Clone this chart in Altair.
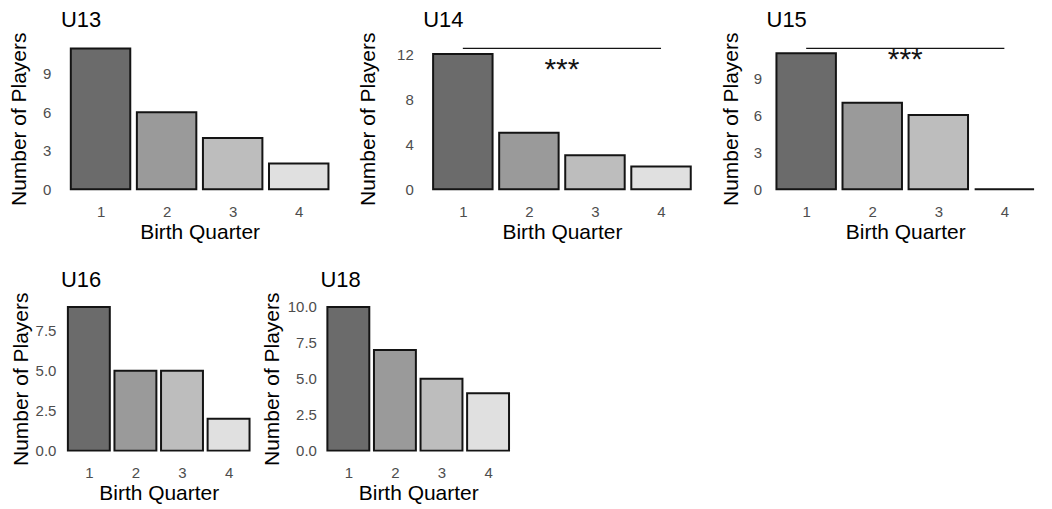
import altair as alt
import pandas as pd

quarters = [1, 2, 3, 4]
greys = ["#6b6b6b", "#9a9a9a", "#bdbdbd", "#e0e0e0"]

u13 = [11, 6, 4, 2]
u14 = [12, 5, 3, 2]
u15 = [11, 7, 6, 0]
u16 = [9, 5, 5, 2]
u18 = [10, 7, 5, 4]

y_ticks_u13 = [0, 3, 6, 9]
y_ticks_u14 = [0, 4, 8, 12]
y_ticks_u15 = [0, 3, 6, 9]
y_ticks_u16 = [0, 2.5, 5, 7.5]
y_ticks_u18 = [0, 2.5, 5, 7.5, 10]

sig_u14 = {"q_from": 1, "q_to": 4, "line_y": 12.5, "text_y": 10.6, "label": "***"}
sig_u15 = {"q_from": 1, "q_to": 4, "line_y": 11.4, "text_y": 10.45, "label": "***"}

FONT = "Liberation Sans, Arial, Helvetica, sans-serif"
XT = "Birth Quarter"
YT = "Number of Players"


def panel(title, values, ticks, fmt, ymax, width, height, ext, lab_pad, sig=None):
    df = pd.DataFrame({"q": quarters, "n": values})
    xscale = alt.Scale(domain=[0.4, 4.6], nice=False, zero=False)
    yscale = alt.Scale(domain=[0, ymax], nice=False, zero=True)
    bars = (
        alt.Chart(df)
        .transform_calculate(lo="datum.q - 0.45", hi="datum.q + 0.45")
        .mark_bar(stroke="#141414", strokeWidth=2)
        .encode(
            x=alt.X(
                "lo:Q",
                scale=xscale,
                title=XT,
                axis=alt.Axis(values=quarters, format="d", labelPadding=15, titlePadding=2),
            ),
            x2="hi:Q",
            y=alt.Y(
                "n:Q",
                scale=yscale,
                title=YT,
                axis=alt.Axis(values=ticks, format=fmt, minExtent=ext, maxExtent=ext,
                              titlePadding=0, labelPadding=lab_pad),
            ),
            y2=alt.Y2Datum(0),
            fill=alt.Fill("q:N", scale=alt.Scale(domain=quarters, range=greys), legend=None),
        )
    )
    layers = [bars]
    if sig is not None:
        sdf = pd.DataFrame([sig])
        rule = alt.Chart(sdf).mark_rule(color="#141414", strokeWidth=1.3).encode(
            x=alt.X("q_from:Q", scale=xscale, title=XT),
            x2="q_to:Q",
            y=alt.Y("line_y:Q", scale=yscale, title=YT),
        )
        txt = (
            alt.Chart(sdf)
            .transform_calculate(mid="(datum.q_from + datum.q_to) / 2")
            .mark_text(fontSize=30, baseline="middle", align="center", font=FONT, color="#141414")
            .encode(
                x=alt.X("mid:Q", scale=xscale, title=XT),
                y=alt.Y("text_y:Q", scale=yscale, title=YT),
                text="label:N",
            )
        )
        layers += [rule, txt]
    return alt.layer(*layers).properties(
        width=width,
        height=height,
        title=alt.Title(title, anchor="start", frame="group", fontSize=22, font=FONT,
                        fontWeight="normal", baseline="alphabetic", offset=-17, color="black"),
    )


H1 = 141
H2 = 144
p13 = panel("U13", u13, y_ticks_u13, "d", 11, 278, H1, 31, 10)
p14 = panel("U14", u14, y_ticks_u14, "d", 12.5, 278, H1, 45, 10, sig_u14)
p15 = panel("U15", u15, y_ticks_u15, "d", 11.4, 278, H1, 25, 5, sig_u15)
p16 = panel("U16", u16, y_ticks_u16, ".1f", 9, 196, H2, 29, 5)
p18 = panel("U18", u18, y_ticks_u18, ".1f", 10, 196, H2, 38, 4)

row1 = alt.hconcat(p13, p14, p15, spacing=19)
row2 = alt.hconcat(p16, p18, spacing=4)

chart = (
    alt.concat(row1, row2, columns=1, align="none", spacing=27)
    .properties(padding=0)
    .configure_view(stroke=None)
    .configure_axis(grid=False, domain=False, ticks=False, labelColor="#4d4d4d",
                    labelFontSize=15, titleFontSize=21, titleColor="black",
                    titleFontWeight="normal", labelFont=FONT, titleFont=FONT)
)

chart.save("out.html", embed_options={"renderer": "svg", "actions": False})
